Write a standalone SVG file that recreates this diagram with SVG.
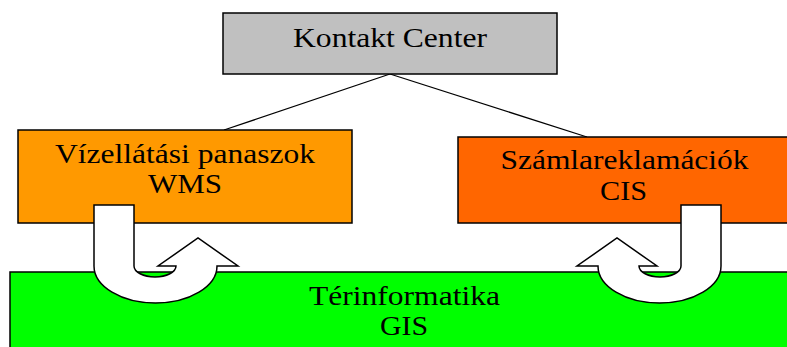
<svg xmlns="http://www.w3.org/2000/svg" width="787" height="347" viewBox="0 0 787 347">
  <style>
    .box { stroke: #000; stroke-width: 1.5; }
    .lbl { font-family: "Liberation Serif", "Times New Roman", serif; font-size: 27px; fill: #000; text-anchor: middle; }
    .conn { stroke: #000; stroke-width: 1.3; fill: none; }
    .uturn { fill: #fff; stroke: #000; stroke-width: 1.5; stroke-linejoin: miter; }
  </style>
  <rect width="787" height="347" fill="#fff"/>

  <!-- tree links from the contact center to the two source systems -->
  <g id="connectors">
    <line class="conn" x1="390" y1="74" x2="224" y2="130"/>
    <line class="conn" x1="390" y1="74" x2="587" y2="137"/>
  </g>

  <g id="kontakt-center">
    <rect class="box" x="223" y="13" width="334" height="61" fill="#C0C0C0"/>
    <text class="lbl" x="390" y="46.5" textLength="194" lengthAdjust="spacingAndGlyphs">Kontakt Center</text>
  </g>

  <g id="wms">
    <rect class="box" x="18" y="130" width="334" height="93" fill="#FF9900"/>
    <text class="lbl" x="185" y="163" textLength="260" lengthAdjust="spacingAndGlyphs">Vízellátási panaszok</text>
    <text class="lbl" x="185" y="193" textLength="74" lengthAdjust="spacingAndGlyphs">WMS</text>
  </g>

  <g id="cis">
    <rect class="box" x="458" y="137" width="340" height="86" fill="#FF6600"/>
    <text class="lbl" x="624.5" y="168.5" textLength="248" lengthAdjust="spacingAndGlyphs">Számlareklamációk</text>
    <text class="lbl" x="623.5" y="200" textLength="47" lengthAdjust="spacingAndGlyphs">CIS</text>
  </g>

  <g id="gis">
    <rect class="box" x="10" y="272" width="800" height="90" fill="#00FF00"/>
    <text class="lbl" x="404.5" y="305" textLength="191" lengthAdjust="spacingAndGlyphs">Térinformatika</text>
    <text class="lbl" x="404" y="335" textLength="48" lengthAdjust="spacingAndGlyphs">GIS</text>
  </g>

  <!-- U-turn exchange arrows between each system and GIS -->
  <g id="uturn-wms">
    <path class="uturn" d="M94,205 H134 V266 A21,11 0 0 0 176,266 H158 L198,238 L238,266 H217 A61.5,37 0 0 1 94,266 Z"/>
  </g>
  <g id="uturn-cis">
    <path class="uturn" d="M721,205 H681 V266 A21,11 0 0 1 639,266 H657 L617,238 L577,266 H598 A61.5,37 0 0 0 721,266 Z"/>
  </g>
</svg>
